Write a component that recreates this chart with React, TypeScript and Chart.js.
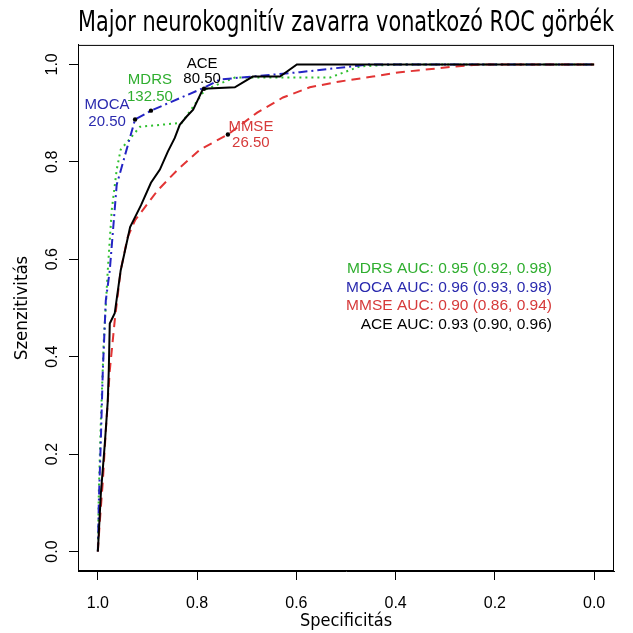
import React, { useEffect, useRef } from "react";
import { Chart, registerables } from "chart.js";

Chart.register(...registerables);

const titleText = "Major neurokognitív zavarra vonatkozó ROC görbék";
const xAxisTitle = "Specificitás";
const yAxisTitle = "Szenzitivitás";
const tickValues = [0, 0.2, 0.4, 0.6, 0.8, 1.0];

const seriesNames = ["MDRS", "MOCA", "MMSE", "ACE"];

const mdrsSpec = [1, 0.998, 0.994, 0.988, 0.98, 0.972, 0.962, 0.954, 0.915, 0.831, 0.784, 0.724, 0.532, 0.472, 0.391, 0];
const mdrsSens = [0, 0.124, 0.268, 0.433, 0.577, 0.701, 0.784, 0.825, 0.872, 0.88, 0.948, 0.973, 0.973, 0.996, 1, 1];

const mocaSpec = [1, 0.998, 0.994, 0.99, 0.984, 0.976, 0.962, 0.925, 0.893, 0.784, 0.754, 0.593, 0.452, 0];
const mocaSens = [0, 0.103, 0.227, 0.371, 0.515, 0.577, 0.753, 0.887, 0.905, 0.953, 0.969, 0.984, 1, 1];

const mmseSpec = [1, 0.996, 0.99, 0.984, 0.976, 0.966, 0.954, 0.94, 0.925, 0.905, 0.879, 0.839, 0.794, 0.738, 0.679, 0.627, 0.573, 0.512, 0.446, 0.391, 0.351, 0.286, 0.23, 0];
const mmseSens = [0, 0.062, 0.144, 0.247, 0.371, 0.474, 0.577, 0.645, 0.68, 0.707, 0.742, 0.784, 0.825, 0.856, 0.901, 0.932, 0.953, 0.965, 0.975, 0.984, 0.988, 0.995, 1, 1];

const aceSpec = [1, 0.994, 0.986, 0.98, 0.978, 0.976, 0.966, 0.954, 0.935, 0.913, 0.893, 0.875, 0.859, 0.845, 0.835, 0.821, 0.808, 0.8, 0.788, 0.724, 0.688, 0.633, 0.599, 0];
const aceSens = [0, 0.118, 0.221, 0.309, 0.371, 0.468, 0.489, 0.577, 0.666, 0.711, 0.757, 0.784, 0.821, 0.849, 0.876, 0.893, 0.907, 0.924, 0.95, 0.953, 0.975, 0.975, 1, 1];

const thresholdLabels = ["132.50", "20.50", "26.50", "80.50"];
const thresholdSpec = [0.893, 0.925, 0.738, 0.786];
const thresholdSens = [0.905, 0.887, 0.856, 0.95];

const aucValues = ["0.95 (0.92, 0.98)", "0.96 (0.93, 0.98)", "0.90 (0.86, 0.94)", "0.93 (0.90, 0.96)"];

const lineColors = ["#2fc02f", "#2424c4", "#e23434", "#000000"];
const textColors = ["#2fae2f", "#2a2aae", "#d63a3a", "#000000"];
const dashes = [[2, 4], [9, 4, 2, 4], [9, 6], []];
const labelOffsets = [
  [-1, -31, -14],
  [-28, -15, 2],
  [23, -8, 8],
  [-2, -25, -10],
];

const SANS = "'Liberation Sans', Arial, sans-serif";
const NARROW = "'Liberation Sans Narrow', 'Arial Narrow', 'DejaVu Sans Condensed', sans-serif";

function toPoints(xs: number[], ys: number[]) {
  return xs.map((x, i) => ({ x, y: ys[i] }));
}

const decorPlugin = {
  id: "decor",
  afterDatasetsDraw(chart: any) {
    const { ctx, chartArea, scales } = chart;
    const xs = scales.x;
    const ys = scales.y;
    ctx.save();
    ctx.strokeStyle = "#000";
    ctx.lineWidth = 1;
    ctx.setLineDash([]);
    ctx.strokeRect(chartArea.left + 0.5, chartArea.top + 0.5, chartArea.right - chartArea.left - 1, chartArea.bottom - chartArea.top - 1);

    ctx.font = "15px " + SANS;
    ctx.textAlign = "center";
    ctx.textBaseline = "middle";
    seriesNames.forEach((name, i) => {
      const px = xs.getPixelForValue(thresholdSpec[i]);
      const py = ys.getPixelForValue(thresholdSens[i]);
      const [dx, dy1, dy2] = labelOffsets[i];
      ctx.fillStyle = textColors[i];
      ctx.fillText(name, px + dx, py + dy1);
      ctx.fillText(thresholdLabels[i], px + dx, py + dy2);
    });

    ctx.font = "15.5px " + SANS;
    ctx.textAlign = "right";
    const ax = xs.getPixelForValue(0.085);
    const ay = ys.getPixelForValue(0.581);
    seriesNames.forEach((name, i) => {
      ctx.fillStyle = textColors[i];
      ctx.fillText(name + " AUC: " + aucValues[i], ax, ay + i * 18.8);
    });
    ctx.restore();
  },
};

export default function App() {
  const ref = useRef<HTMLCanvasElement | null>(null);

  useEffect(() => {
    document.body.style.margin = "0";
    const canvas = ref.current;
    if (!canvas) return;

    const lineSets = [
      toPoints(mdrsSpec, mdrsSens),
      toPoints(mocaSpec, mocaSens),
      toPoints(mmseSpec, mmseSens),
      toPoints(aceSpec, aceSens),
    ];

    const datasets: any[] = lineSets.map((data, i) => ({
      label: seriesNames[i],
      data,
      showLine: true,
      borderColor: lineColors[i],
      backgroundColor: lineColors[i],
      borderWidth: 2,
      borderDash: dashes[i],
      pointRadius: 0,
      tension: 0,
      fill: false,
      order: 4 - i,
    }));
    datasets.push({
      label: "thresholds",
      data: toPoints(thresholdSpec, thresholdSens),
      showLine: false,
      pointRadius: 2.2,
      pointBackgroundColor: "#000",
      pointBorderWidth: 0,
      order: 0,
    });

    const chart = new Chart(canvas, {
      type: "scatter",
      data: { datasets },
      plugins: [decorPlugin],
      options: {
        animation: false,
        responsive: false,
        devicePixelRatio: 1,
        layout: { padding: { left: 0, right: 19, top: 0, bottom: 0 } },
        plugins: {
          legend: { display: false },
          tooltip: { enabled: false },
          title: {
            display: true,
            text: titleText,
            fullSize: false,
            color: "#000",
            font: { family: NARROW, size: 28.9, weight: "normal", lineHeight: 1 },
            padding: { top: 9, bottom: 7 },
          },
        },
        scales: {
          x: {
            type: "linear",
            reverse: true,
            min: -0.04,
            max: 1.04,
            afterBuildTicks: (s: any) => {
              s.ticks = tickValues.map((v) => ({ value: v }));
            },
            afterFit: (s: any) => {
              s.height = 62;
            },
            grid: { drawOnChartArea: false, drawTicks: true, tickLength: 9, color: "#000", lineWidth: 1 },
            border: { display: true, color: "#000", width: 1 },
            ticks: {
              color: "#000",
              font: { family: SANS, size: 16 },
              padding: 14,
              maxRotation: 0,
              callback: (v: any) => Number(v).toFixed(1),
            },
            title: {
              display: true,
              text: xAxisTitle,
              color: "#000",
              font: { family: NARROW, size: 18, lineHeight: 1 },
              padding: { top: 0, bottom: 3 },
            },
          },
          y: {
            type: "linear",
            min: -0.04,
            max: 1.04,
            afterBuildTicks: (s: any) => {
              s.ticks = tickValues.map((v) => ({ value: v }));
            },
            afterFit: (s: any) => {
              s.width = 78;
            },
            grid: { drawOnChartArea: false, drawTicks: true, tickLength: 9, color: "#000", lineWidth: 1 },
            border: { display: true, color: "#000", width: 1 },
            ticks: {
              color: "#000",
              font: { family: SANS, size: 16 },
              padding: 5,
              minRotation: 90,
              maxRotation: 90,
              crossAlign: "center",
              callback: (v: any) => Number(v).toFixed(1),
            },
            title: {
              display: true,
              text: yAxisTitle,
              color: "#000",
              font: { family: NARROW, size: 18.5, lineHeight: 1 },
              padding: { top: 13, bottom: 0 },
            },
          },
        },
      },
    } as any);

    return () => chart.destroy();
  }, []);

  return (
    <div style={{ width: 633, height: 633, background: "#fff" }}>
      <canvas ref={ref} width={633} height={633} style={{ width: 633, height: 633, display: "block" }} />
    </div>
  );
}
